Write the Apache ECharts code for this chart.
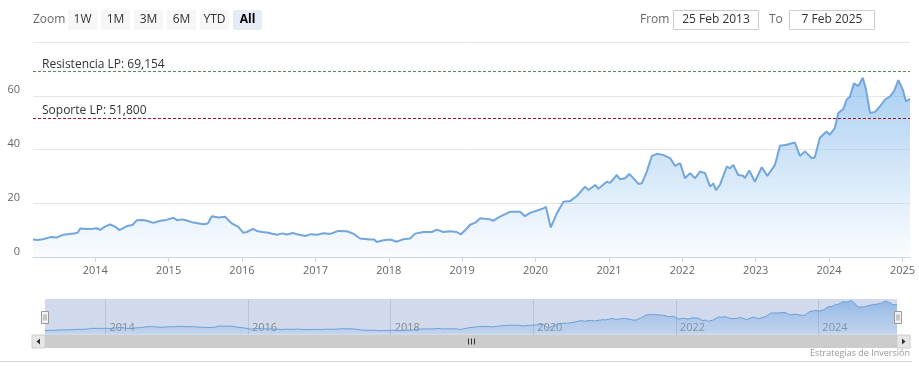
<!DOCTYPE html>
<html>
<head>
<meta charset="utf-8">
<script src="https://cdn.jsdelivr.net/npm/echarts@6/dist/echarts.min.js"></script>
<style>
  html, body { margin: 0; padding: 0; background: #fff; }
  #chart { width: 919px; height: 377px; }
</style>
</head>
<body>
<div id="chart"></div>
<script>
// valores (cierre aproximado)
const dates = [
  '2013-02-25','2013-03-20','2013-04-15','2013-05-22','2013-06-25','2013-07-27','2013-09-13','2013-10-05','2013-10-18','2013-11-20','2013-12-20',
  '2014-01-09','2014-01-25','2014-02-20','2014-03-16','2014-04-10','2014-05-01','2014-06-08','2014-07-05','2014-07-27','2014-08-25','2014-09-15','2014-10-17','2014-11-20','2014-12-20',
  '2015-01-25','2015-02-11','2015-03-10','2015-04-01','2015-05-04','2015-06-23','2015-07-15','2015-08-04','2015-09-06','2015-10-09','2015-11-11','2015-12-14',
  '2016-01-08','2016-01-25','2016-02-25','2016-03-15','2016-04-10','2016-05-04','2016-06-23','2016-07-20','2016-08-12','2016-09-10','2016-10-01','2016-11-11','2016-12-10',
  '2017-01-08','2017-02-10','2017-03-15','2017-04-25','2017-06-06','2017-07-08','2017-08-11','2017-09-30','2017-10-20','2017-11-02','2017-12-05',
  '2018-01-08','2018-02-10','2018-03-14','2018-04-17','2018-05-12','2018-06-22','2018-08-03','2018-08-28','2018-09-29','2018-11-02','2018-12-05','2018-12-25',
  '2019-01-24','2019-02-10','2019-03-10','2019-04-01','2019-05-20','2019-06-06','2019-07-08','2019-08-27','2019-10-16','2019-11-10','2019-12-05',
  '2020-01-10','2020-02-09','2020-02-22','2020-03-17','2020-04-16','2020-05-19','2020-06-21','2020-07-25','2020-09-04','2020-09-21','2020-10-24','2020-11-09','2020-12-21',
  '2021-01-06','2021-02-09','2021-02-25','2021-03-22','2021-04-12','2021-05-10','2021-05-27','2021-06-13','2021-07-08','2021-08-02','2021-08-27','2021-09-26','2021-11-01','2021-11-26','2021-12-21',
  '2022-01-14','2022-02-08','2022-03-05','2022-03-30','2022-04-24','2022-05-19','2022-06-04','2022-06-17','2022-07-07','2022-08-10','2022-08-26','2022-09-11','2022-10-06','2022-10-31','2022-11-08','2022-11-30','2022-12-28',
  '2023-01-31','2023-02-28','2023-04-07','2023-05-02','2023-06-04','2023-07-15','2023-08-09','2023-09-03','2023-10-06','2023-10-22','2023-11-16','2023-12-19',
  '2024-01-05','2024-01-30','2024-02-16','2024-03-12','2024-03-29','2024-04-14','2024-05-04','2024-05-26','2024-06-17','2024-07-03','2024-07-23','2024-08-17','2024-09-11','2024-10-06','2024-10-31','2024-11-20','2024-12-11',
  '2025-01-02','2025-01-18','2025-02-07'
]
const values = [
  6.5, 6.3, 6.6, 7.4, 7.3, 8.3, 8.7, 9.0, 10.6, 10.4, 10.5,
  10.7, 10.1, 11.4, 12.1, 11.3, 10.0, 11.5, 11.9, 13.7, 13.8, 13.5, 12.7, 13.5, 13.8,
  14.6, 13.7, 14.0, 13.6, 12.8, 12.2, 12.5, 15.2, 14.7, 15.0, 12.5, 11.2,
  9.0, 9.3, 10.5, 9.7, 9.3, 9.1, 8.3, 8.8, 8.4, 8.9, 8.5, 7.8, 8.5,
  8.3, 8.8, 8.6, 9.7, 9.6, 8.7, 6.9, 6.5, 6.5, 5.6, 6.2,
  6.5, 5.7, 6.6, 6.9, 8.7, 9.3, 9.3, 10.2, 9.3, 9.6, 9.3, 8.4,
  10.6, 12.0, 12.9, 14.4, 14.0, 13.5, 15.0, 16.8, 16.8, 15.2, 16.4,
  17.3, 18.1, 18.7, 11.0, 16.2, 20.6, 20.8, 22.7, 26.2, 24.9, 26.8, 25.4, 28.0,
  27.6, 30.5, 28.9, 29.3, 30.9, 28.7, 27.2, 27.4, 31.8, 37.6, 38.4, 38.0, 36.8, 33.9, 34.9,
  29.3, 31.2, 29.3, 31.8, 31.2, 26.2, 27.4, 24.9, 26.8, 33.6, 33.0, 34.3, 30.5, 30.2, 29.3, 32.2, 28.0,
  33.4, 30.2, 34.3, 41.4, 41.8, 42.6, 37.6, 39.3, 36.8, 37.0, 44.3, 46.7,
  45.5, 48.0, 53.6, 55.1, 58.6, 59.6, 64.6, 63.6, 66.7, 62.3, 53.6, 54.0, 56.1, 58.6, 59.8, 61.7, 65.8,
  62.3, 57.9, 58.8
]
const resistance = 69.154
const support = 51.8
const yTicks = [0, 20, 40, 60, 80]
const navYears = [2014, 2016, 2018, 2020, 2022, 2024]
const rangeButtons = ['1W', '1M', '3M', '6M', 'YTD', 'All']
const credit = 'Estrategias de Inversión'

const FONT = '"Open Sans", "DejaVu Sans", sans-serif'
const MONTHS = ['Jan', 'Feb', 'Mar', 'Apr', 'May', 'Jun', 'Jul', 'Aug', 'Sep', 'Oct', 'Nov', 'Dec']

function fmtDate(s) {
  const d = new Date(s + 'T00:00:00')
  return d.getDate() + ' ' + MONTHS[d.getMonth()] + ' ' + d.getFullYear()
}
function fmtEs(v) {
  return v.toFixed(3).replace('.', ',')
}

const seriesData = dates.map((d, i) => [d, values[i]])

const chart = echarts.init(document.getElementById('chart'))

// botones y campos de fecha, imitando el selector de rango
const graphics = []
graphics.push({ type: 'text', x: 33, y: 20, style: { text: 'Zoom', fill: '#666', font: '12px ' + FONT, verticalAlign: 'middle' } })
rangeButtons.forEach((b, i) => {
  const x = 68 + i * 33
  const sel = b === 'All'
  graphics.push({ type: 'rect', shape: { x: x, y: 10, width: 29, height: 20, r: 2 }, style: { fill: sel ? '#e6ebf5' : '#f7f7f7' } })
  graphics.push({
    type: 'text', x: x + 14.5, y: 20,
    style: { text: b, fill: sel ? '#000' : '#333', font: (sel ? 'bold ' : '') + '12px ' + FONT, align: 'center', verticalAlign: 'middle' }
  })
})
graphics.push({ type: 'text', x: 640, y: 20, style: { text: 'From', fill: '#666', font: '12px ' + FONT, verticalAlign: 'middle' } })
graphics.push({ type: 'rect', shape: { x: 673.5, y: 10.5, width: 85, height: 19 }, style: { fill: '#fff', stroke: '#ccc', lineWidth: 1 } })
graphics.push({ type: 'text', x: 716, y: 20, style: { text: fmtDate(dates[0]), fill: '#333', font: '12px ' + FONT, align: 'center', verticalAlign: 'middle' } })
graphics.push({ type: 'text', x: 769, y: 20, style: { text: 'To', fill: '#666', font: '12px ' + FONT, verticalAlign: 'middle' } })
graphics.push({ type: 'rect', shape: { x: 789.5, y: 10.5, width: 85, height: 19 }, style: { fill: '#fff', stroke: '#ccc', lineWidth: 1 } })
graphics.push({ type: 'text', x: 832, y: 20, style: { text: fmtDate(dates[dates.length - 1]), fill: '#333', font: '12px ' + FONT, align: 'center', verticalAlign: 'middle' } })

// navegador: máscara, asas y barra de desplazamiento
graphics.push({ type: 'rect', z: -1, shape: { x: 45, y: 299, width: 852, height: 36 }, style: { fill: 'rgba(102,133,194,0.3)' } })
graphics.push({ type: 'rect', shape: { x: 32, y: 335, width: 13, height: 13 }, style: { fill: '#e6e6e6', stroke: '#ccc' } })
graphics.push({ type: 'polygon', shape: { points: [[40, 338.5], [40, 344.5], [36.5, 341.5]] }, style: { fill: '#333' } })
graphics.push({ type: 'rect', shape: { x: 45, y: 335, width: 852, height: 13 }, style: { fill: '#ccc' } })
graphics.push({ type: 'rect', shape: { x: 897, y: 335, width: 13, height: 13 }, style: { fill: '#e6e6e6', stroke: '#ccc' } })
graphics.push({ type: 'polygon', shape: { points: [[902, 338.5], [902, 344.5], [905.5, 341.5]] }, style: { fill: '#333' } })
;[468, 471, 474].forEach(x => {
  graphics.push({ type: 'line', shape: { x1: x + 0.5, y1: 338.5, x2: x + 0.5, y2: 344.5 }, style: { stroke: '#333', lineWidth: 1 } })
})
;[41, 894].forEach(x => {
  graphics.push({ type: 'rect', z: 10, shape: { x: x + 0.5, y: 311.5, width: 7, height: 12 }, style: { fill: '#f2f2f2', stroke: '#999', lineWidth: 1 } })
  graphics.push({ type: 'line', z: 10, shape: { x1: x + 3, y1: 314.5, x2: x + 3, y2: 320.5 }, style: { stroke: '#999', lineWidth: 1 } })
  graphics.push({ type: 'line', z: 10, shape: { x1: x + 5, y1: 314.5, x2: x + 5, y2: 320.5 }, style: { stroke: '#999', lineWidth: 1 } })
})
graphics.push({ type: 'line', shape: { x1: 0, y1: 361.5, x2: 912, y2: 361.5 }, style: { stroke: '#d6d6de', lineWidth: 1 } })
graphics.push({ type: 'text', x: 910, y: 353, style: { text: credit, fill: '#999', font: '9px ' + FONT, align: 'right', verticalAlign: 'middle' } })

function yearLabel(v) {
  const d = new Date(v)
  return (d.getMonth() === 0 && d.getDate() === 1) ? String(d.getFullYear()) : ''
}

const option = {
  animation: false,
  textStyle: { fontFamily: FONT },
  grid: [
    { left: 33, right: 9, top: 42, height: 215 },
    { left: 45, right: 22, top: 299, height: 36 }
  ],
  xAxis: [
    {
      type: 'time', gridIndex: 0, min: dates[0], max: dates[dates.length - 1], splitNumber: 12,
      axisLine: { lineStyle: { color: '#ccd6eb' } },
      axisTick: { length: 5, lineStyle: { color: '#ccd6eb' } },
      axisLabel: { color: '#666', fontSize: 11, margin: 8, formatter: yearLabel, hideOverlap: false },
      splitLine: { show: false }
    },
    {
      type: 'time', gridIndex: 1, min: dates[0], max: dates[dates.length - 1], splitNumber: 12,
      axisLine: { show: false }, axisTick: { show: false },
      axisLabel: {
        inside: true, margin: 2, color: '#888', fontSize: 11, align: 'left', padding: [0, 0, 0, 4],
        formatter: v => {
          const y = yearLabel(v)
          return navYears.includes(+y) ? y : ''
        }
      },
      splitLine: { show: false }
    }
  ],
  yAxis: [
    {
      type: 'value', gridIndex: 0, min: yTicks[0], max: yTicks[yTicks.length - 1], interval: 20,
      axisLine: { show: false }, axisTick: { show: false },
      axisLabel: { color: '#666', fontSize: 11, margin: 13, verticalAlign: 'bottom', formatter: v => v === 80 ? '' : v },
      splitLine: { lineStyle: { color: '#e6e6e6' } }
    },
    { type: 'value', gridIndex: 1, min: -3, max: 70, show: false }
  ],
  series: [
    {
      type: 'line', xAxisIndex: 0, yAxisIndex: 0, data: seriesData, showSymbol: false, z: 3,
      lineStyle: { color: '#72a6dc', width: 2 },
      areaStyle: {
        color: new echarts.graphic.LinearGradient(0, 42, 0, 257, [
          { offset: 0, color: 'rgba(124,181,236,1)' },
          { offset: 0.25, color: 'rgba(124,181,236,0.85)' },
          { offset: 0.5, color: 'rgba(124,181,236,0.56)' },
          { offset: 0.75, color: 'rgba(124,181,236,0.3)' },
          { offset: 1, color: 'rgba(124,181,236,0.05)' }
        ], true)
      },
      markLine: {
        silent: true, symbol: 'none',
        data: [
          {
            yAxis: resistance,
            lineStyle: { color: '#4f944f', type: [3, 2], width: 1 },
            label: { formatter: 'Resistencia LP: ' + fmtEs(resistance) }
          },
          {
            yAxis: support,
            lineStyle: { color: '#9a1818', type: [3, 2], width: 1 },
            label: { formatter: 'Soporte LP: ' + fmtEs(support) }
          }
        ],
        label: { position: 'insideStartTop', color: '#333', fontSize: 12, fontFamily: FONT, distance: [9, 1] }
      }
    },
    {
      type: 'line', xAxisIndex: 1, yAxisIndex: 1, data: seriesData, showSymbol: false, z: 3,
      lineStyle: { color: '#6b9fd8', width: 1 },
      areaStyle: {
        color: new echarts.graphic.LinearGradient(0, 299, 0, 335, [
          { offset: 0, color: 'rgba(110,160,225,0.9)' },
          { offset: 1, color: 'rgba(124,181,236,0.25)' }
        ], true)
      },
      markLine: {
        silent: true, symbol: 'none', label: { show: false },
        lineStyle: { color: 'rgba(120,130,160,0.25)', type: 'solid', width: 1 },
        data: navYears.map(y => ({ xAxis: y + '-01-01' }))
      }
    }
  ],
  graphic: graphics
}

chart.setOption(option)
</script>
</body>
</html>
